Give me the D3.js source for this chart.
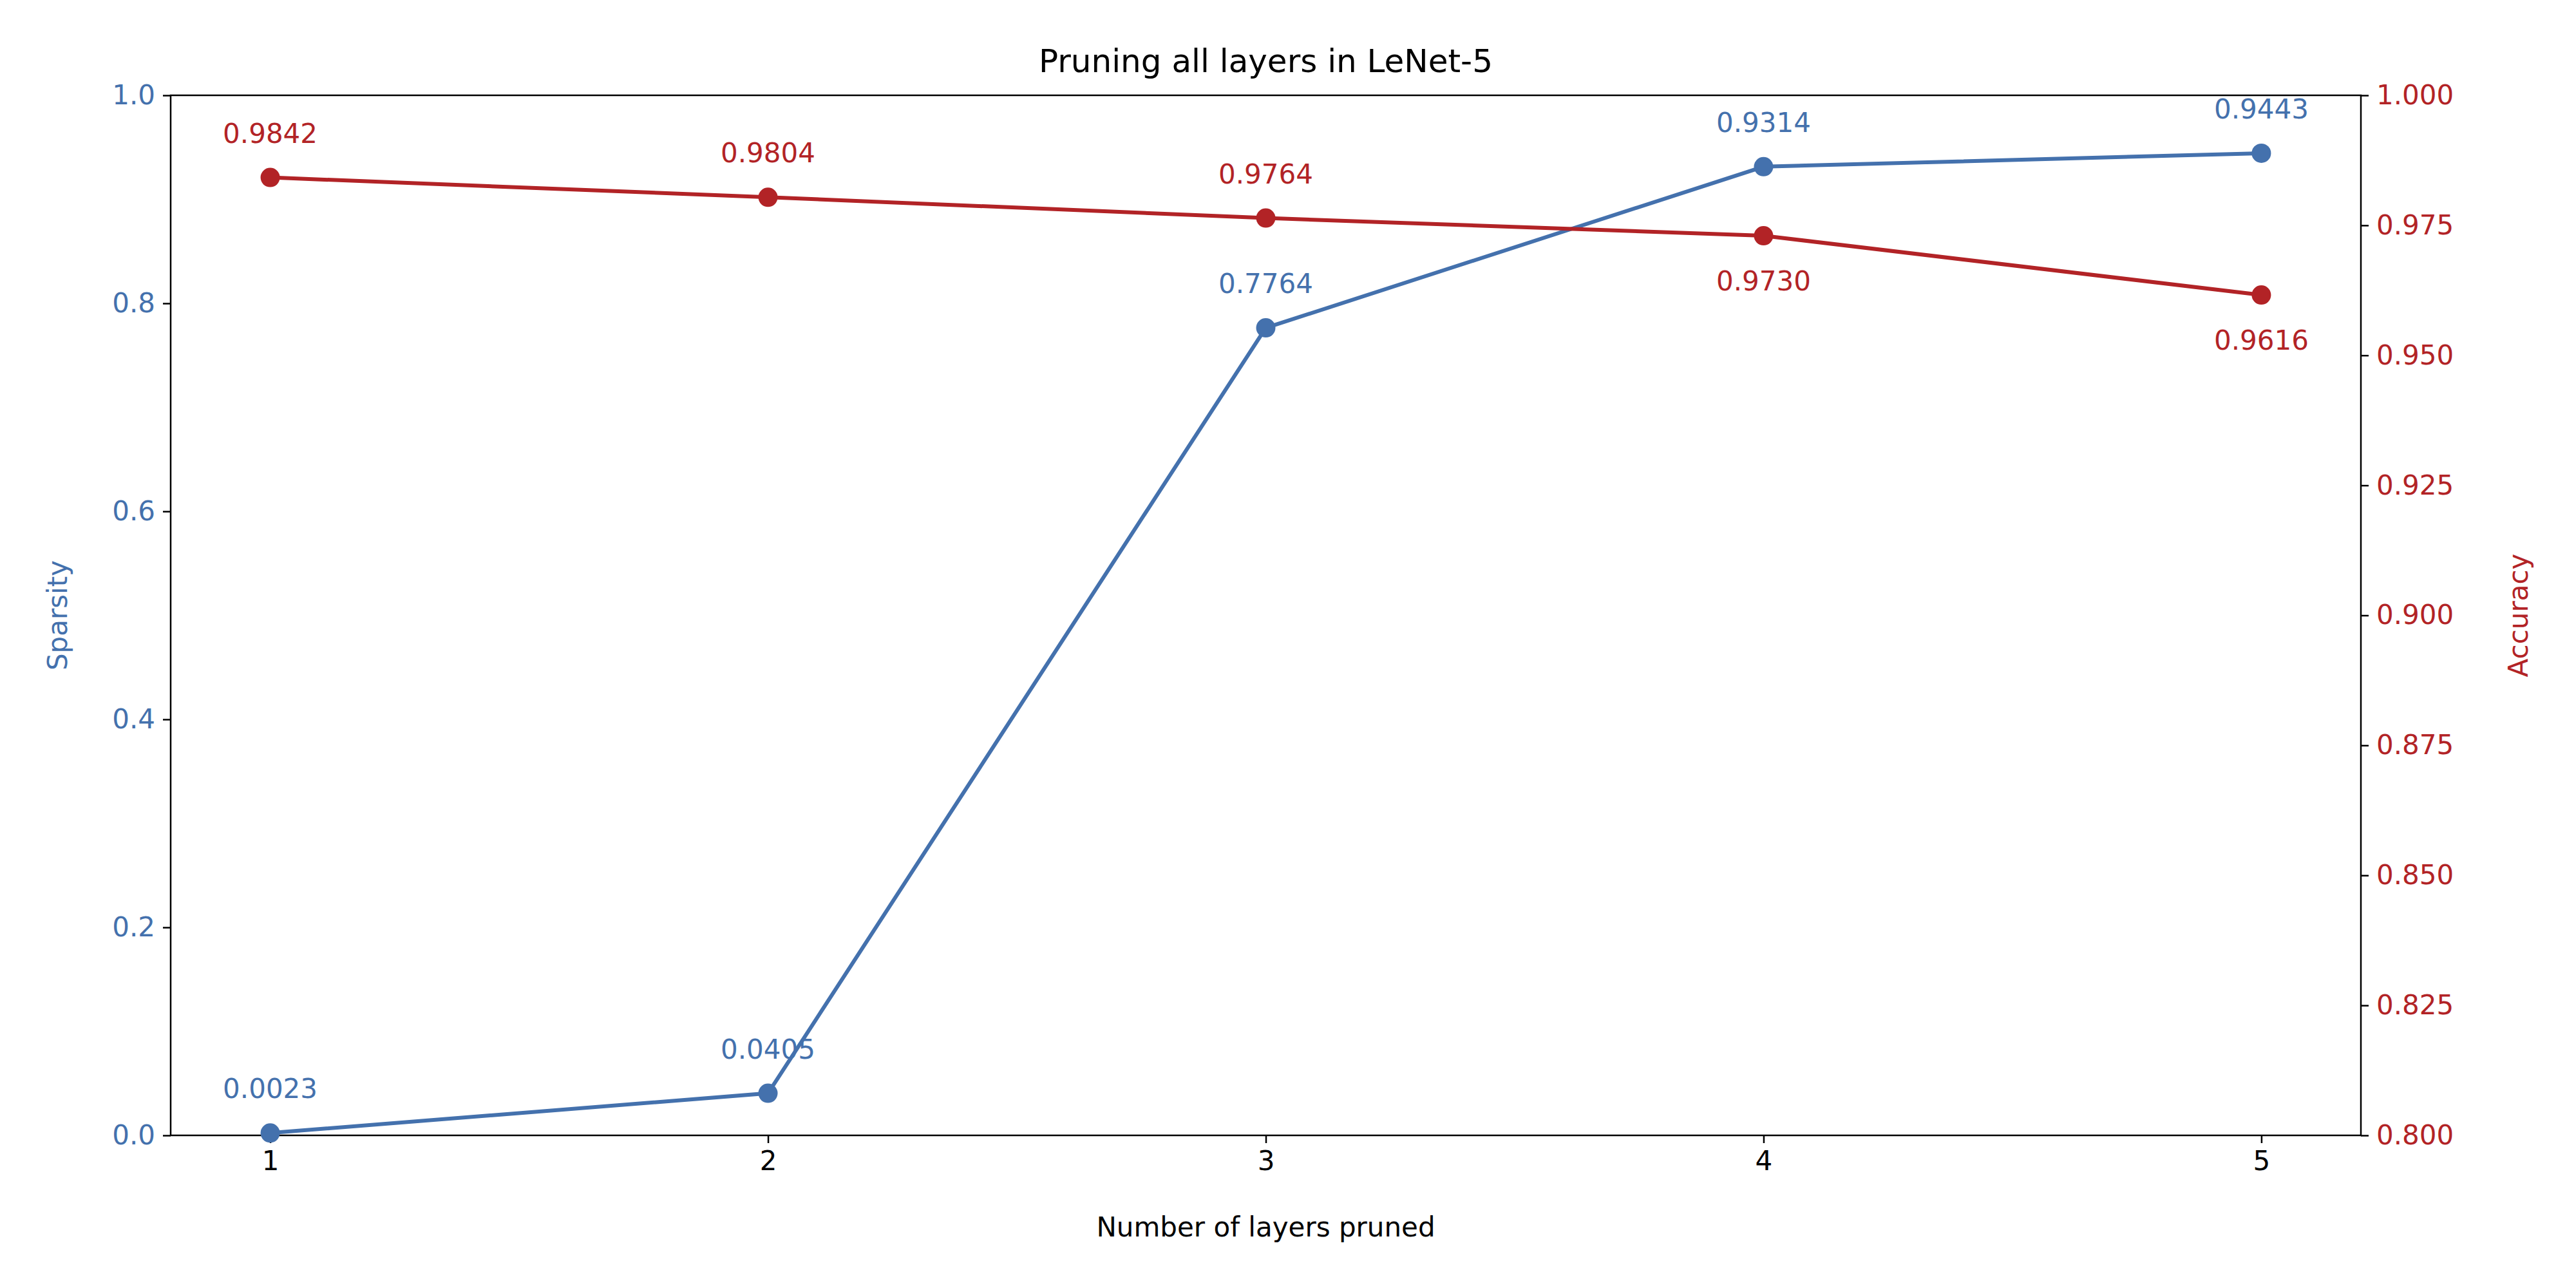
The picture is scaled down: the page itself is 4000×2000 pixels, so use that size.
<!DOCTYPE html>
<html><head><meta charset="utf-8">
<script src="https://cdn.jsdelivr.net/npm/d3@7"></script>
<style>body{margin:0;background:#fff}text{font-family:"DejaVu Sans",sans-serif}</style>
</head><body>
<svg id="c" width="4000" height="2000"></svg>
<script>
const layers=[1,2,3,4,5];
const sparsity=[0.0023,0.0405,0.7764,0.9314,0.9443];
const accuracy=[0.9842,0.9804,0.9764,0.9730,0.9616];
const accLabelBelow=[false,false,false,true,true];
const leftTicks=[0,0.2,0.4,0.6,0.8,1.0];
const rightTicks=[0.8,0.825,0.85,0.875,0.9,0.925,0.95,0.975,1.0];
const blue="#4471ad", red="#b22326";
const L=265,R=3666,T=148,B=1763;
const svg=d3.select("#c");
const x=d3.scaleLinear().domain([0.8,5.2]).range([L,R]);
const yl=d3.scaleLinear().domain([0,1]).range([B,T]);
const yr=d3.scaleLinear().domain([0.8,1]).range([B,T]);
const fs=42;
function styleAxis(g,col){g.selectAll("path").remove();g.selectAll("line").attr("stroke","#000").attr("stroke-width",2.5);g.selectAll("text").attr("fill",col).style("font-size",fs+"px").style("font-family","DejaVu Sans");}
svg.append("g").attr("transform",`translate(0,${B})`).call(d3.axisBottom(x).tickValues(layers).tickFormat(d3.format("d")).tickSize(12).tickPadding(12)).call(g=>styleAxis(g,"#000"));
svg.append("g").attr("transform",`translate(${L},0)`).call(d3.axisLeft(yl).tickValues(leftTicks).tickFormat(d3.format(".1f")).tickSize(12).tickPadding(12)).call(g=>styleAxis(g,blue));
svg.append("g").attr("transform",`translate(${R},0)`).call(d3.axisRight(yr).tickValues(rightTicks).tickFormat(d3.format(".3f")).tickSize(12).tickPadding(12)).call(g=>styleAxis(g,red));
svg.append("rect").attr("x",L).attr("y",T).attr("width",R-L).attr("height",B-T).attr("fill","none").attr("stroke","#000").attr("stroke-width",2.5);
function series(vals,ys,col,below){
 svg.append("path").datum(vals).attr("fill","none").attr("stroke",col).attr("stroke-width",6)
  .attr("d",d3.line().x((d,i)=>x(layers[i])).y(d=>ys(d)));
 svg.selectAll(null).data(vals).enter().append("circle").attr("cx",(d,i)=>x(layers[i])).attr("cy",d=>ys(d)).attr("r",15).attr("fill",col);
 svg.selectAll(null).data(vals).enter().append("text").attr("x",(d,i)=>x(layers[i])).attr("y",(d,i)=>ys(d)+(below&&below[i]?85:-54))
  .attr("text-anchor","middle").attr("fill",col).style("font-size",fs+"px").text(d=>d.toFixed(4));
}
series(sparsity,yl,blue,null);
series(accuracy,yr,red,accLabelBelow);
svg.append("text").attr("x",(L+R)/2).attr("y",112).attr("text-anchor","middle").style("font-size","50px").text("Pruning all layers in LeNet-5");
svg.append("text").attr("x",(L+R)/2).attr("y",1920).attr("text-anchor","middle").style("font-size",fs+"px").text("Number of layers pruned");
svg.append("text").attr("transform",`translate(104,${(T+B)/2}) rotate(-90)`).attr("text-anchor","middle").attr("fill",blue).style("font-size",fs+"px").text("Sparsity");
svg.append("text").attr("transform",`translate(3925,${(T+B)/2}) rotate(-90)`).attr("text-anchor","middle").attr("fill",red).style("font-size",fs+"px").text("Accuracy");
</script></body></html>
